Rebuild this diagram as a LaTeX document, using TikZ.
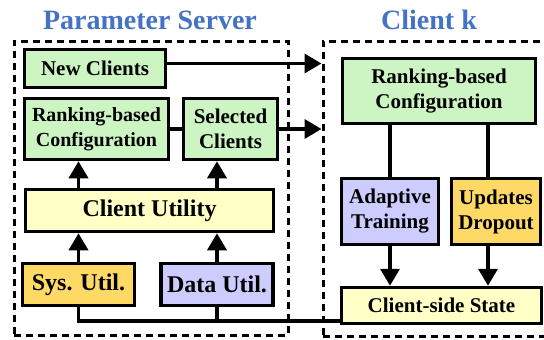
\documentclass[tikz,border=0pt]{standalone}
\usepackage{fontspec}
\setmainfont{Liberation Serif}
\usetikzlibrary{arrows.meta}
\definecolor{cfggreen}{HTML}{CDF5C3}
\definecolor{utilyellow}{HTML}{FFFFC6}
\definecolor{sysorange}{HTML}{FFD966}
\definecolor{datapurple}{HTML}{CCCCFF}
\definecolor{titleblue}{HTML}{4472C4}
\begin{document}
\begin{tikzpicture}[x=1pt,y=-1pt,
    blk/.style={draw,line width=3.5pt,align=center,inner sep=0pt,
      font=\fontsize{21}{25}\selectfont\bfseries},
    bigblk/.style={blk,font=\fontsize{24}{28}\selectfont\bfseries},
    link/.style={line width=3.5pt},
    arr/.style={link,-{Triangle[length=17pt,width=19pt]}},
    group/.style={draw,line width=3pt,dash pattern=on 7pt off 5pt,inner sep=0pt},
    title/.style={font=\fontsize{28}{32}\selectfont\bfseries,text=titleblue}]
    \useasboundingbox (0,0) rectangle (544,340);
    \clip (0,0) rectangle (544,340);
    % Titles
    \node[title] (pstitle) at (150,20) {Parameter Server};
    \node[title] (cktitle) at (429,20) {Client k};
    % Dashed groups
    \node[group,minimum width=274pt,minimum height=294pt] (ps) at (151,188) {};
    \node[group,minimum width=237pt,minimum height=295pt] (ck) at (441.5,188.5) {};
    % Parameter server blocks
    \node[blk,fill=cfggreen,minimum width=141pt,minimum height=38pt] (newc) at (95,68.5) {New Clients};
    \node[blk,fill=cfggreen,minimum width=144pt,minimum height=61pt,
      font=\fontsize{20}{25}\selectfont\bfseries] (rankl) at (96.5,129) {Ranking-based\\Configuration};
    \node[blk,fill=cfggreen,minimum width=94pt,minimum height=61pt] (sel) at (230.5,129) {Selected\\Clients};
    \node[bigblk,fill=utilyellow,minimum width=248pt,minimum height=42pt] (util) at (149.5,210.5) {Client Utility};
    \node[bigblk,fill=sysorange,minimum width=112pt,minimum height=42pt] (sys) at (78.5,284.5) {Sys. Util.};
    \node[bigblk,fill=datapurple,minimum width=112pt,minimum height=42pt] (data) at (217,284.5) {Data Util.};
    % Client blocks
    \node[blk,fill=cfggreen,minimum width=193pt,minimum height=65pt] (rankr) at (439,91) {Ranking-based\\Configuration};
    \node[blk,fill=datapurple,minimum width=97pt,minimum height=66pt] (adapt) at (390,211.5) {Adaptive\\Training};
    \node[blk,fill=sysorange,minimum width=89pt,minimum height=66pt] (drop) at (496,211.5) {Updates\\Dropout};
    \node[blk,fill=utilyellow,minimum width=200pt,minimum height=36pt] (state) at (441.5,305.5) {Client-side State};
    % Server to client
    \draw[arr] ([yshift=5pt]newc.east) -- ([yshift=5pt]newc.east -| ck.west);
    \draw[link] (rankl.east) -- (sel.west);
    \draw[arr] (sel.east) -- (sel.east -| ck.west);
    % Utilities
    \draw[arr] (sys.north) -- (util.south -| sys.north);
    \draw[arr] (data.north) -- (util.south -| data.north);
    \draw[arr] (util.north -| sys.north) -- (rankl.south -| sys.north);
    \draw[arr] (util.north -| data.north) -- (sel.south -| data.north);
    % Feedback from client
    \coordinate (bus) at (0,321);
    \draw[link] (sys.south) |- (bus -| state.west);
    \draw[link] (data.south) -- (data.south |- bus);
    % Inside the client
    \draw[link] (rankr.south -| adapt.north) -- (adapt.north);
    \draw[link] (rankr.south -| drop.north) ++(-8,0) -- ([xshift=-8pt]drop.north);
    \draw[arr] (adapt.south) -- (state.north -| adapt.south);
    \draw[arr] ([xshift=-8pt]drop.south) -- ([xshift=-8pt]state.north -| drop.south);
\end{tikzpicture}
\end{document}
